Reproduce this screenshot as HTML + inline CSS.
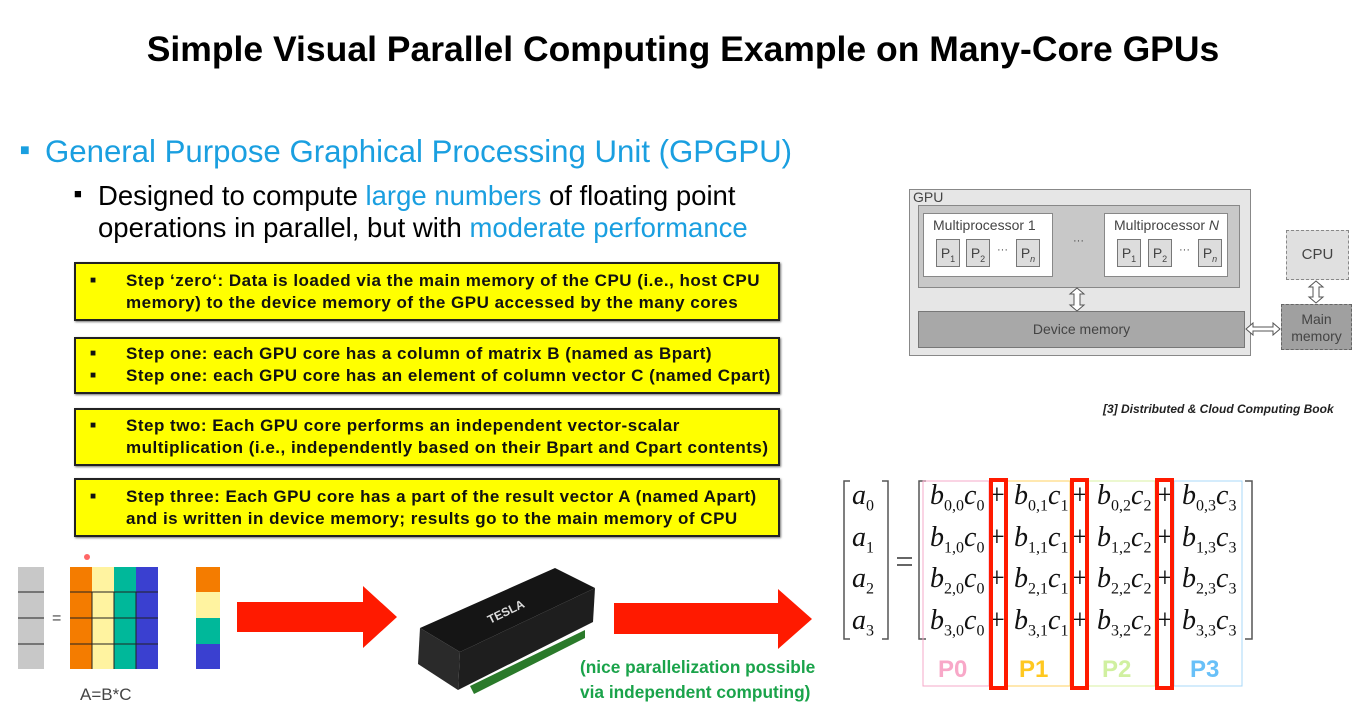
<!DOCTYPE html>
<html><head><meta charset="utf-8"><style>
*{margin:0;padding:0;box-sizing:border-box}
body{width:1366px;height:708px;background:#fff;position:relative;overflow:hidden;font-family:"Liberation Sans",sans-serif}
.a{position:absolute;white-space:nowrap}
.title{left:0;width:1366px;text-align:center;top:29px;font-size:35.5px;font-weight:bold;color:#000}
.blue{color:#1a9fe0}
.yb{position:absolute;left:74px;width:706px;background:#ffff00;border:2px solid #222;box-shadow:1px 1px 2px #777;font-weight:bold;font-size:17px;letter-spacing:0.5px;color:#111;line-height:22px}
.yb .l{position:absolute;left:50px}
.yb .b{position:absolute;left:14px;font-size:10px}
.g{position:absolute;font-family:"Liberation Sans",sans-serif;color:#444}
.m{font-family:"Liberation Serif",serif;font-style:italic;font-size:28px;position:absolute;white-space:nowrap;color:#111}
.m sub{font-style:normal;font-size:16px}
.p{font-family:"Liberation Serif",serif;font-size:28px;position:absolute;color:#111}
</style></head><body>
<div class="a title">Simple Visual Parallel Computing Example on Many-Core GPUs</div>
<div class="a blue" style="left:20px;top:142px;font-size:16px">■</div>
<div class="a blue" style="left:45px;top:134px;font-size:31.2px">General Purpose Graphical Processing Unit (GPGPU)</div>
<div class="a" style="left:74px;top:186px;font-size:13px">■</div>
<div class="a" style="left:98px;top:180px;font-size:27.5px;line-height:32px">Designed to compute <span class="blue">large numbers</span> of floating point<br>operations in parallel, but with <span class="blue">moderate performance</span></div>

<div class="yb" style="top:262px;height:59px"><span class="b" style="top:6px">■</span><div class="l" style="top:6px">Step ‘zero‘: Data is loaded via the main memory of the CPU (i.e., host CPU<br>memory) to the device memory of the GPU accessed by the many cores</div></div>
<div class="yb" style="top:337px;height:57px"><span class="b" style="top:4px">■</span><span class="b" style="top:26px">■</span><div class="l" style="top:4px">Step one: each GPU core has a column of matrix B (named as Bpart)<br>Step one: each GPU core has an element of column vector C (named Cpart)</div></div>
<div class="yb" style="top:408px;height:58px"><span class="b" style="top:5px">■</span><div class="l" style="top:5px">Step two: Each GPU core performs an independent vector-scalar<br>multiplication (i.e., independently based on their Bpart and Cpart contents)</div></div>
<div class="yb" style="top:478px;height:59px"><span class="b" style="top:6px">■</span><div class="l" style="top:6px">Step three: Each GPU core has a part of the result vector A (named Apart)<br>and is written in device memory; results go to the main memory of CPU</div></div>

<div class="g" style="left:909px;top:189px;width:342px;height:167px;background:#e6e6e6;border:1px solid #888"></div>
<div class="g" style="left:913px;top:189px;font-size:14px">GPU</div>
<div class="g" style="left:918px;top:205px;width:322px;height:83px;background:#c8c8c8;border:1px solid #888"></div>
<div class="g" style="left:923px;top:213px;width:130px;height:64px;background:#fff;border:1px solid #888"></div>
<div class="g" style="left:933px;top:217px;font-size:14px">Multiprocessor 1</div>
<div class="g" style="left:1104px;top:213px;width:124px;height:64px;background:#fff;border:1px solid #888"></div>
<div class="g" style="left:1114px;top:217px;font-size:14px">Multiprocessor <i>N</i></div>
<div class="g" style="left:936px;top:239px;width:24px;height:28px;background:#ddd;border:1px solid #777;font-size:14px;text-align:center;line-height:26px">P<sub style="font-size:9px">1</sub></div>
<div class="g" style="left:966px;top:239px;width:24px;height:28px;background:#ddd;border:1px solid #777;font-size:14px;text-align:center;line-height:26px">P<sub style="font-size:9px">2</sub></div>
<div class="g" style="left:997px;top:244px;font-size:11px">···</div>
<div class="g" style="left:1016px;top:239px;width:24px;height:28px;background:#ddd;border:1px solid #777;font-size:14px;text-align:center;line-height:26px">P<sub style="font-size:9px"><i>n</i></sub></div>
<div class="g" style="left:1073px;top:235px;font-size:11px">···</div>
<div class="g" style="left:1117px;top:239px;width:24px;height:28px;background:#ddd;border:1px solid #777;font-size:14px;text-align:center;line-height:26px">P<sub style="font-size:9px">1</sub></div>
<div class="g" style="left:1148px;top:239px;width:24px;height:28px;background:#ddd;border:1px solid #777;font-size:14px;text-align:center;line-height:26px">P<sub style="font-size:9px">2</sub></div>
<div class="g" style="left:1179px;top:244px;font-size:11px">···</div>
<div class="g" style="left:1198px;top:239px;width:24px;height:28px;background:#ddd;border:1px solid #777;font-size:14px;text-align:center;line-height:26px">P<sub style="font-size:9px"><i>n</i></sub></div>
<div class="g" style="left:918px;top:311px;width:327px;height:37px;background:#a8a8a8;border:1px solid #777;font-size:14px;text-align:center;line-height:35px">Device memory</div>
<div class="g" style="left:1286px;top:230px;width:63px;height:50px;background:#e0e0e0;border:1px dashed #888;font-size:15px;text-align:center;line-height:48px">CPU</div>
<div class="g" style="left:1281px;top:304px;width:71px;height:46px;background:#a0a0a0;border:1px dashed #666;font-size:14px;text-align:center;line-height:17px;padding-top:6px">Main<br>memory</div>
<svg class="a" style="left:0;top:0" width="1366" height="708">
<g fill="#fff" stroke="#555" stroke-width="1">
<path d="M1077 288 l-7 6 h4 v11 h-4 l7 6 l7 -6 h-4 v-11 h4 z"/>
<path d="M1316 281 l-7 6 h4 v10 h-4 l7 6 l7 -6 h-4 v-10 h4 z"/>
<path d="M1246 329 l7 -6 v4 h20 v-4 l7 6 l-7 6 v-4 h-20 v4 z"/>
</g>
<path d="M237 602 h126 v-16 l34 31 l-34 31 v-16 h-126 z" fill="#ff1a00"/>
<path d="M614 603 h164 v-14 l34 30 l-34 30 v-15 h-164 z" fill="#ff1a00"/>
<polygon points="420,628 555,568 595,588 460,652" fill="#151515"/>
<polygon points="420,628 460,652 458,690 418,664" fill="#2a2a2a"/>
<polygon points="460,652 595,588 593,622 458,690" fill="#1e1e1e"/>
<polygon points="470,686 585,630 585,638 474,694" fill="#2a7a2a"/>
<text x="490" y="624" fill="#ddd" font-size="12" font-weight="bold" font-family="Liberation Sans" transform="rotate(-26 490 624)">TESLA</text>
<rect x="18" y="567" width="26" height="102" fill="#c8c8c8"/>
<g stroke="#222" stroke-width="1"><line x1="18" y1="592" x2="44" y2="592"/><line x1="18" y1="618" x2="44" y2="618"/><line x1="18" y1="644" x2="44" y2="644"/></g>
<rect x="70" y="567" width="22" height="102" fill="#f47c00"/>
<rect x="92" y="567" width="22" height="102" fill="#fff3a0"/>
<rect x="114" y="567" width="22" height="102" fill="#00b89a"/>
<rect x="136" y="567" width="22" height="102" fill="#3a40d0"/>
<g stroke="#222" stroke-width="1"><line x1="70" y1="592" x2="158" y2="592"/><line x1="70" y1="618" x2="158" y2="618"/><line x1="70" y1="644" x2="158" y2="644"/><line x1="92" y1="592" x2="92" y2="669"/><line x1="114" y1="592" x2="114" y2="669"/><line x1="136" y1="592" x2="136" y2="669"/></g>
<rect x="196" y="567" width="24" height="25" fill="#f47c00"/>
<rect x="196" y="592" width="24" height="26" fill="#fff3a0"/>
<rect x="196" y="618" width="24" height="26" fill="#00b89a"/>
<rect x="196" y="644" width="24" height="25" fill="#3a40d0"/>
<circle cx="87" cy="557" r="3" fill="#f66"/>
<text x="52" y="623" font-size="16" fill="#444" font-family="Liberation Sans">=</text>
<text x="80" y="700" font-size="17" fill="#444" font-family="Liberation Sans">A=B*C</text>
<g stroke="#555" stroke-width="1.5" fill="none">
<path d="M850 481 h-6 v158 h6"/><path d="M882 481 h6 v158 h-6"/>
<path d="M926 481 h-7 v158 h7"/><path d="M1245 481 h7 v158 h-7"/>
</g>
<line x1="897" y1="558" x2="912" y2="558" stroke="#333" stroke-width="1.5"/>
<line x1="897" y1="565" x2="912" y2="565" stroke="#333" stroke-width="1.5"/>
<g fill="none" stroke-width="1">
<rect x="923" y="481" width="66" height="205" stroke="#f6a8c8"/>
<rect x="1006" y="481" width="64" height="205" stroke="#ffd060"/>
<rect x="1088" y="481" width="67" height="205" stroke="#d8f0a0"/>
<rect x="1174" y="481" width="68" height="205" stroke="#a8d8f8"/>
</g>
<g font-family="Liberation Sans" font-weight="bold" font-size="24">
<text x="938" y="677" fill="#f8a8c8">P0</text>
<text x="1019" y="677" fill="#ffc820">P1</text>
<text x="1102" y="677" fill="#d0f0a0">P2</text>
<text x="1190" y="677" fill="#68c0f8">P3</text>
</g>
</svg>
<div class="a" style="left:1103px;top:402px;font-size:12px;font-weight:bold;font-style:italic;color:#222">[3] Distributed &amp; Cloud Computing Book</div>
<div class="m" style="left:852px;top:480px">a<sub>0</sub></div>
<div class="m" style="left:852px;top:522px">a<sub>1</sub></div>
<div class="m" style="left:852px;top:563px">a<sub>2</sub></div>
<div class="m" style="left:852px;top:605px">a<sub>3</sub></div>

<div class="m" style="left:930px;top:480px">b<sub>0,0</sub>c<sub>0</sub></div><div class="p" style="left:989px;top:480px">+</div><div class="m" style="left:1014px;top:480px">b<sub>0,1</sub>c<sub>1</sub></div><div class="p" style="left:1072px;top:480px">+</div><div class="m" style="left:1097px;top:480px">b<sub>0,2</sub>c<sub>2</sub></div><div class="p" style="left:1157px;top:480px">+</div><div class="m" style="left:1182px;top:480px">b<sub>0,3</sub>c<sub>3</sub></div>
<div class="m" style="left:930px;top:522px">b<sub>1,0</sub>c<sub>0</sub></div><div class="p" style="left:989px;top:522px">+</div><div class="m" style="left:1014px;top:522px">b<sub>1,1</sub>c<sub>1</sub></div><div class="p" style="left:1072px;top:522px">+</div><div class="m" style="left:1097px;top:522px">b<sub>1,2</sub>c<sub>2</sub></div><div class="p" style="left:1157px;top:522px">+</div><div class="m" style="left:1182px;top:522px">b<sub>1,3</sub>c<sub>3</sub></div>
<div class="m" style="left:930px;top:563px">b<sub>2,0</sub>c<sub>0</sub></div><div class="p" style="left:989px;top:563px">+</div><div class="m" style="left:1014px;top:563px">b<sub>2,1</sub>c<sub>1</sub></div><div class="p" style="left:1072px;top:563px">+</div><div class="m" style="left:1097px;top:563px">b<sub>2,2</sub>c<sub>2</sub></div><div class="p" style="left:1157px;top:563px">+</div><div class="m" style="left:1182px;top:563px">b<sub>2,3</sub>c<sub>3</sub></div>
<div class="m" style="left:930px;top:605px">b<sub>3,0</sub>c<sub>0</sub></div><div class="p" style="left:989px;top:605px">+</div><div class="m" style="left:1014px;top:605px">b<sub>3,1</sub>c<sub>1</sub></div><div class="p" style="left:1072px;top:605px">+</div><div class="m" style="left:1097px;top:605px">b<sub>3,2</sub>c<sub>2</sub></div><div class="p" style="left:1157px;top:605px">+</div><div class="m" style="left:1182px;top:605px">b<sub>3,3</sub>c<sub>3</sub></div>

<div style="position:absolute;left:989px;top:478px;width:19px;height:212px;border:4px solid #ff1a00"></div>
<div style="position:absolute;left:1070px;top:478px;width:19px;height:212px;border:4px solid #ff1a00"></div>
<div style="position:absolute;left:1155px;top:478px;width:19px;height:212px;border:4px solid #ff1a00"></div>

<div class="a" style="left:580px;top:655px;font-size:17.3px;font-weight:bold;color:#1aa34a;line-height:25px">(nice parallelization possible<br>via independent computing)</div>
</body></html>
